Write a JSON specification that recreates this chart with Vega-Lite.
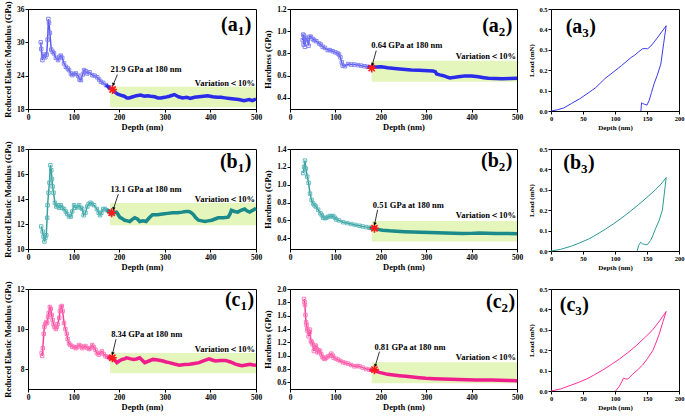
{
"$schema":"https://vega.github.io/schema/vega-lite/v6.json",
"padding":{"left":2,"top":0,"right":0,"bottom":0},
"config":{
 "font":"Liberation Serif",
 "view":{"stroke":"#000","strokeWidth":1},
 "axis":{"domainColor":"#000","tickColor":"#000","labelColor":"#000","titleColor":"#000","labelFont":"Liberation Serif","titleFont":"Liberation Serif","labelFontWeight":"bold","titleFontWeight":"bold","labelFontSize":7.5,"titleFontSize":8.5,"grid":false,"tickSize":3,"labelPadding":1,"titlePadding":4,"labelFlush":false,"labelOverlap":false,"tickCount":12},
 "axisX":{"titlePadding":2}
},
"datasets":{
"a1":[{"d":28,"v":30.0},{"d":29,"v":28.8},{"d":31.5,"v":26.8},{"d":33,"v":27.5},{"d":35,"v":27.8},{"d":38,"v":27.3},{"d":41,"v":27.8},{"d":43,"v":30.5},{"d":44.7,"v":34.2},{"d":46,"v":33.5},{"d":48,"v":31.7},{"d":51,"v":28.7},{"d":54,"v":28.3},{"d":57,"v":28.0},{"d":61,"v":27.2},{"d":66,"v":26.8},{"d":69,"v":27.4},{"d":72,"v":27.6},{"d":75,"v":27.2},{"d":79,"v":26.2},{"d":83,"v":25.6},{"d":87,"v":25.3},{"d":90,"v":25.0},{"d":94,"v":24.4},{"d":97,"v":24.1},{"d":101,"v":24.3},{"d":105,"v":24.4},{"d":110,"v":24.0},{"d":113,"v":23.3},{"d":116,"v":23.2},{"d":120,"v":24.2},{"d":123,"v":25.0},{"d":127,"v":24.8},{"d":130,"v":24.4},{"d":135,"v":24.6},{"d":141,"v":24.1},{"d":146,"v":24.0},{"d":152,"v":23.7},{"d":156,"v":23.3},{"d":160,"v":22.9},{"d":165,"v":22.7},{"d":171,"v":22.3},{"d":178,"v":21.9},{"d":185,"v":21.5},{"d":190,"v":21.1},{"d":196,"v":20.7},{"d":203,"v":20.5},{"d":211,"v":20.3},{"d":217,"v":20.0},{"d":222,"v":20.0},{"d":230,"v":20.2},{"d":238,"v":20.4},{"d":247,"v":20.5},{"d":255,"v":20.3},{"d":262,"v":20.4},{"d":269,"v":20.3},{"d":278,"v":20.2},{"d":285,"v":20.0},{"d":291,"v":20.0},{"d":300,"v":20.1},{"d":310,"v":20.3},{"d":321,"v":20.6},{"d":330,"v":20.2},{"d":339,"v":20.0},{"d":348,"v":20.1},{"d":356,"v":19.9},{"d":365,"v":20.1},{"d":375,"v":20.2},{"d":385,"v":20.3},{"d":394,"v":20.4},{"d":405,"v":20.2},{"d":415,"v":20.1},{"d":423,"v":20.1},{"d":432,"v":20.0},{"d":442,"v":19.9},{"d":452,"v":19.8},{"d":462,"v":19.7},{"d":474,"v":19.5},{"d":485,"v":19.7},{"d":492,"v":19.5},{"d":500,"v":19.8}],
"a2":[{"d":28,"v":0.92},{"d":29,"v":0.97},{"d":30,"v":0.88},{"d":31,"v":0.96},{"d":33,"v":0.86},{"d":35,"v":0.94},{"d":38,"v":0.92},{"d":41,"v":0.87},{"d":43,"v":0.95},{"d":46,"v":0.95},{"d":50,"v":0.93},{"d":53,"v":0.92},{"d":58,"v":0.91},{"d":64,"v":0.89},{"d":68,"v":0.88},{"d":72,"v":0.86},{"d":77,"v":0.85},{"d":83,"v":0.83},{"d":88,"v":0.83},{"d":94,"v":0.82},{"d":100,"v":0.81},{"d":105,"v":0.80},{"d":108,"v":0.79},{"d":111,"v":0.765},{"d":114,"v":0.72},{"d":116,"v":0.69},{"d":121,"v":0.685},{"d":128,"v":0.705},{"d":135,"v":0.70},{"d":142,"v":0.70},{"d":150,"v":0.695},{"d":157,"v":0.69},{"d":164,"v":0.685},{"d":171,"v":0.68},{"d":182,"v":0.675},{"d":191,"v":0.677},{"d":201,"v":0.68},{"d":215,"v":0.672},{"d":230,"v":0.665},{"d":248,"v":0.658},{"d":267,"v":0.65},{"d":285,"v":0.648},{"d":304,"v":0.645},{"d":315,"v":0.643},{"d":320,"v":0.635},{"d":323,"v":0.615},{"d":330,"v":0.607},{"d":338,"v":0.60},{"d":345,"v":0.59},{"d":352,"v":0.58},{"d":363,"v":0.585},{"d":375,"v":0.592},{"d":386,"v":0.598},{"d":400,"v":0.596},{"d":415,"v":0.59},{"d":427,"v":0.582},{"d":437,"v":0.576},{"d":452,"v":0.574},{"d":467,"v":0.573},{"d":485,"v":0.575},{"d":500,"v":0.576}],
"b1":[{"d":29,"v":11.8},{"d":32,"v":11.4},{"d":34,"v":11.0},{"d":36,"v":10.6},{"d":38,"v":10.9},{"d":40,"v":11.1},{"d":42,"v":12.5},{"d":43,"v":13.5},{"d":45,"v":14.5},{"d":47,"v":15.3},{"d":49,"v":16.7},{"d":51,"v":16.3},{"d":52.5,"v":15.6},{"d":54,"v":15.0},{"d":56,"v":14.5},{"d":59,"v":13.7},{"d":62,"v":13.4},{"d":65,"v":13.5},{"d":68,"v":13.3},{"d":72,"v":13.5},{"d":75,"v":13.3},{"d":79,"v":13.2},{"d":83,"v":13.0},{"d":86,"v":12.8},{"d":90,"v":12.6},{"d":94,"v":12.6},{"d":97,"v":13.0},{"d":101,"v":13.5},{"d":104,"v":13.3},{"d":108,"v":13.35},{"d":112,"v":13.5},{"d":116,"v":13.3},{"d":119,"v":13.2},{"d":122,"v":12.7},{"d":126,"v":12.9},{"d":130,"v":13.4},{"d":133,"v":13.6},{"d":137,"v":13.7},{"d":140,"v":13.6},{"d":145,"v":13.5},{"d":151,"v":13.2},{"d":155,"v":12.9},{"d":158,"v":12.7},{"d":161,"v":12.9},{"d":165,"v":13.2},{"d":169,"v":13.2},{"d":173,"v":13.1},{"d":178,"v":13.0},{"d":183,"v":12.8},{"d":188,"v":12.9},{"d":194,"v":12.95},{"d":197,"v":12.8},{"d":201,"v":12.55},{"d":206,"v":12.45},{"d":212,"v":12.3},{"d":218,"v":12.25},{"d":223,"v":12.2},{"d":228,"v":12.35},{"d":234,"v":12.5},{"d":240,"v":12.4},{"d":245,"v":12.2},{"d":252,"v":12.25},{"d":259,"v":12.2},{"d":266,"v":12.5},{"d":273,"v":12.75},{"d":284,"v":12.75},{"d":295,"v":12.8},{"d":306,"v":12.85},{"d":317,"v":12.9},{"d":328,"v":12.9},{"d":338,"v":12.95},{"d":346,"v":13.0},{"d":353,"v":13.0},{"d":358,"v":12.9},{"d":363,"v":12.75},{"d":368,"v":12.5},{"d":374,"v":12.3},{"d":381,"v":12.25},{"d":388,"v":12.2},{"d":395,"v":12.25},{"d":403,"v":12.3},{"d":410,"v":12.4},{"d":417,"v":12.5},{"d":428,"v":12.5},{"d":439,"v":12.55},{"d":443,"v":12.8},{"d":446,"v":13.1},{"d":453,"v":13.0},{"d":460,"v":12.95},{"d":467,"v":13.1},{"d":475,"v":13.2},{"d":480,"v":13.05},{"d":486,"v":12.95},{"d":493,"v":13.1},{"d":500,"v":13.25}],
"b2":[{"d":29,"v":1.13},{"d":31,"v":1.2},{"d":33,"v":1.27},{"d":35,"v":1.18},{"d":38,"v":1.09},{"d":41,"v":1.02},{"d":44,"v":0.9},{"d":47.5,"v":0.83},{"d":51,"v":0.79},{"d":54,"v":0.77},{"d":57,"v":0.755},{"d":62,"v":0.72},{"d":67,"v":0.68},{"d":70,"v":0.66},{"d":73,"v":0.63},{"d":77,"v":0.625},{"d":80,"v":0.63},{"d":84,"v":0.64},{"d":88,"v":0.65},{"d":92,"v":0.645},{"d":95,"v":0.65},{"d":99,"v":0.63},{"d":102,"v":0.61},{"d":108,"v":0.6},{"d":117,"v":0.58},{"d":126,"v":0.57},{"d":135,"v":0.56},{"d":144,"v":0.55},{"d":153,"v":0.54},{"d":160,"v":0.532},{"d":168,"v":0.525},{"d":175,"v":0.518},{"d":182,"v":0.513},{"d":193,"v":0.5},{"d":204,"v":0.49},{"d":219,"v":0.484},{"d":234,"v":0.48},{"d":252,"v":0.474},{"d":270,"v":0.47},{"d":288,"v":0.467},{"d":307,"v":0.464},{"d":325,"v":0.462},{"d":343,"v":0.46},{"d":362,"v":0.457},{"d":380,"v":0.453},{"d":398,"v":0.455},{"d":416,"v":0.46},{"d":435,"v":0.456},{"d":453,"v":0.453},{"d":476,"v":0.453},{"d":500,"v":0.452}],
"c1":[{"d":30,"v":8.8},{"d":31,"v":8.65},{"d":32.5,"v":9.04},{"d":34.6,"v":9.76},{"d":36,"v":10.1},{"d":37.5,"v":10.24},{"d":40,"v":10.35},{"d":42,"v":10.3},{"d":44,"v":10.6},{"d":45.5,"v":10.8},{"d":48,"v":11.1},{"d":50,"v":11.0},{"d":52,"v":10.7},{"d":54,"v":10.45},{"d":56,"v":10.24},{"d":58,"v":10.1},{"d":61,"v":10.0},{"d":63,"v":10.1},{"d":65,"v":10.24},{"d":68.5,"v":10.56},{"d":70,"v":10.9},{"d":72,"v":11.1},{"d":74,"v":11.15},{"d":76,"v":10.9},{"d":79,"v":10.3},{"d":82,"v":10.0},{"d":85,"v":9.76},{"d":87,"v":9.5},{"d":90,"v":9.28},{"d":93,"v":9.2},{"d":97,"v":9.12},{"d":101,"v":9.1},{"d":105,"v":9.04},{"d":108,"v":9.1},{"d":112,"v":9.2},{"d":116,"v":9.15},{"d":119,"v":9.04},{"d":123,"v":9.1},{"d":126,"v":9.15},{"d":130,"v":9.05},{"d":134,"v":9.0},{"d":137,"v":9.04},{"d":141,"v":9.2},{"d":144,"v":9.1},{"d":148,"v":8.96},{"d":151,"v":8.8},{"d":155,"v":8.72},{"d":158,"v":8.8},{"d":162,"v":8.88},{"d":166,"v":8.75},{"d":170,"v":8.64},{"d":174,"v":8.6},{"d":179,"v":8.56},{"d":183,"v":8.55},{"d":188,"v":8.48},{"d":192,"v":8.4},{"d":195,"v":8.32},{"d":200,"v":8.4},{"d":206,"v":8.48},{"d":211,"v":8.5},{"d":216,"v":8.56},{"d":223,"v":8.52},{"d":231,"v":8.48},{"d":238,"v":8.5},{"d":245,"v":8.56},{"d":250,"v":8.45},{"d":256,"v":8.32},{"d":265,"v":8.4},{"d":274,"v":8.48},{"d":285,"v":8.45},{"d":296,"v":8.4},{"d":303,"v":8.35},{"d":310,"v":8.32},{"d":321,"v":8.25},{"d":332,"v":8.19},{"d":343,"v":8.22},{"d":354,"v":8.24},{"d":365,"v":8.28},{"d":375,"v":8.32},{"d":386,"v":8.42},{"d":397,"v":8.51},{"d":404,"v":8.45},{"d":411,"v":8.4},{"d":422,"v":8.42},{"d":433,"v":8.43},{"d":444,"v":8.35},{"d":455,"v":8.24},{"d":462,"v":8.2},{"d":469,"v":8.16},{"d":478,"v":8.2},{"d":487,"v":8.24},{"d":494,"v":8.2},{"d":500,"v":8.19}],
"c2":[{"d":31,"v":1.85},{"d":32,"v":1.8},{"d":33,"v":1.76},{"d":34,"v":1.61},{"d":35.5,"v":1.5},{"d":36.5,"v":1.46},{"d":38,"v":1.4},{"d":39,"v":1.37},{"d":41,"v":1.29},{"d":43,"v":1.35},{"d":44,"v":1.39},{"d":46,"v":1.22},{"d":48,"v":1.2},{"d":50,"v":1.17},{"d":52.5,"v":1.07},{"d":55,"v":1.12},{"d":57,"v":1.15},{"d":59,"v":1.1},{"d":60.5,"v":1.05},{"d":63,"v":1.08},{"d":66,"v":1.07},{"d":69,"v":1.02},{"d":71.5,"v":0.98},{"d":74,"v":0.96},{"d":77,"v":0.95},{"d":80,"v":0.97},{"d":84,"v":0.99},{"d":88,"v":1.0},{"d":91,"v":1.03},{"d":94,"v":1.0},{"d":96,"v":0.97},{"d":101,"v":0.955},{"d":106,"v":0.94},{"d":111,"v":0.92},{"d":117,"v":0.9},{"d":122,"v":0.89},{"d":128,"v":0.88},{"d":135,"v":0.86},{"d":142,"v":0.84},{"d":148,"v":0.845},{"d":153,"v":0.84},{"d":160,"v":0.82},{"d":168,"v":0.8},{"d":175,"v":0.79},{"d":182,"v":0.78},{"d":190,"v":0.765},{"d":197,"v":0.75},{"d":206,"v":0.735},{"d":215,"v":0.72},{"d":228,"v":0.71},{"d":241,"v":0.7},{"d":255,"v":0.69},{"d":270,"v":0.68},{"d":285,"v":0.67},{"d":299,"v":0.66},{"d":317,"v":0.655},{"d":336,"v":0.65},{"d":354,"v":0.647},{"d":372,"v":0.644},{"d":390,"v":0.64},{"d":409,"v":0.634},{"d":427,"v":0.634},{"d":445,"v":0.634},{"d":463,"v":0.63},{"d":482,"v":0.628},{"d":500,"v":0.625}],
"a3":[{"i":1,"d":0,"v":0},{"i":2,"d":10,"v":0.006},{"i":3,"d":20,"v":0.015},{"i":4,"d":32,"v":0.037},{"i":5,"d":45,"v":0.06},{"i":6,"d":58,"v":0.088},{"i":7,"d":70,"v":0.115},{"i":8,"d":84,"v":0.158},{"i":9,"d":97,"v":0.19},{"i":10,"d":110,"v":0.222},{"i":11,"d":125,"v":0.262},{"i":12,"d":130,"v":0.272},{"i":13,"d":137,"v":0.29},{"i":14,"d":143,"v":0.305},{"i":15,"d":147,"v":0.306},{"i":16,"d":151,"v":0.305},{"i":17,"d":156,"v":0.318},{"i":18,"d":161,"v":0.338},{"i":19,"d":166,"v":0.358},{"i":20,"d":173,"v":0.388},{"i":21,"d":180,"v":0.418},{"i":22,"d":176,"v":0.33},{"i":23,"d":171.6,"v":0.23},{"i":24,"d":166,"v":0.175},{"i":25,"d":161,"v":0.133},{"i":26,"d":157,"v":0.09},{"i":27,"d":153.5,"v":0.053},{"i":28,"d":150,"v":0.029},{"i":29,"d":146,"v":0.033},{"i":30,"d":143,"v":0.037},{"i":31,"d":141.5,"v":0.04},{"i":32,"d":141,"v":0.02},{"i":33,"d":140.5,"v":0.0}],
"b3":[{"i":1,"d":0,"v":0},{"i":2,"d":15,"v":0.008},{"i":3,"d":32,"v":0.024},{"i":4,"d":45,"v":0.04},{"i":5,"d":59,"v":0.059},{"i":6,"d":72,"v":0.082},{"i":7,"d":85,"v":0.107},{"i":8,"d":98,"v":0.134},{"i":9,"d":111,"v":0.163},{"i":10,"d":124,"v":0.195},{"i":11,"d":137,"v":0.228},{"i":12,"d":150,"v":0.263},{"i":13,"d":163,"v":0.30},{"i":14,"d":172,"v":0.328},{"i":15,"d":180,"v":0.36},{"i":16,"d":177,"v":0.28},{"i":17,"d":174,"v":0.2},{"i":18,"d":169,"v":0.15},{"i":19,"d":163,"v":0.107},{"i":20,"d":159,"v":0.075},{"i":21,"d":155.5,"v":0.051},{"i":22,"d":150,"v":0.03},{"i":23,"d":146,"v":0.033},{"i":24,"d":143,"v":0.035},{"i":25,"d":140,"v":0.043},{"i":26,"d":138.5,"v":0.035},{"i":27,"d":137,"v":0.027},{"i":28,"d":134.5,"v":0.0}],
"c3":[{"i":1,"d":0,"v":0},{"i":2,"d":15,"v":0.01},{"i":3,"d":30,"v":0.027},{"i":4,"d":43,"v":0.042},{"i":5,"d":56,"v":0.059},{"i":6,"d":68,"v":0.08},{"i":7,"d":81,"v":0.103},{"i":8,"d":94,"v":0.129},{"i":9,"d":107,"v":0.157},{"i":10,"d":120,"v":0.188},{"i":11,"d":133,"v":0.222},{"i":12,"d":146,"v":0.26},{"i":13,"d":159,"v":0.30},{"i":14,"d":170,"v":0.345},{"i":15,"d":180,"v":0.39},{"i":16,"d":175,"v":0.34},{"i":17,"d":169,"v":0.278},{"i":18,"d":164,"v":0.236},{"i":19,"d":159,"v":0.198},{"i":20,"d":151,"v":0.16},{"i":21,"d":143,"v":0.127},{"i":22,"d":135,"v":0.103},{"i":23,"d":128,"v":0.083},{"i":24,"d":122,"v":0.065},{"i":25,"d":120,"v":0.059},{"i":26,"d":116.5,"v":0.059},{"i":27,"d":113,"v":0.063},{"i":28,"d":111,"v":0.048},{"i":29,"d":107,"v":0.024},{"i":30,"d":101,"v":0.0}],
"ann":[
{"p":"a1","k":"band","x":180,"x2":500,"y":18.3,"y2":22.0},
{"p":"a1","k":"star","x":185.5,"y":21.5},
{"p":"a1","k":"arrow","x":196,"y":24.2,"x2":187,"y2":22.4},
{"p":"a1","k":"note","x":181,"y":25.2,"t":"21.9 GPa at 180 nm"},
{"p":"a1","k":"var","x":500,"y":22.7,"t":"Variation＜10%"},
{"p":"a1","k":"lab","x":460,"y":33.1,"t":"(a","s":"1"},
{"p":"a2","k":"band","x":180,"x2":500,"y":0.546,"y2":0.735},
{"p":"a2","k":"star","x":180,"y":0.668},
{"p":"a2","k":"arrow","x":190,"y":0.826,"x2":181.5,"y2":0.70},
{"p":"a2","k":"note","x":179,"y":0.878,"t":"0.64 GPa at 180 nm"},
{"p":"a2","k":"var","x":500,"y":0.78,"t":"Variation＜10%"},
{"p":"a2","k":"lab","x":460,"y":1.045,"t":"(a","s":"2"},
{"p":"a3","k":"lab","x":49,"y":0.41,"t":"(a","s":"3"},
{"p":"b1","k":"band","x":180,"x2":500,"y":11.9,"y2":13.69},
{"p":"b1","k":"star","x":183.5,"y":12.9},
{"p":"b1","k":"arrow","x":198,"y":14.39,"x2":187.5,"y2":13.22},
{"p":"b1","k":"note","x":181,"y":14.78,"t":"13.1 GPa at 180 nm"},
{"p":"b1","k":"var","x":500,"y":14.0,"t":"Variation＜10%"},
{"p":"b1","k":"lab","x":460,"y":17.0,"t":"(b","s":"1"},
{"p":"b2","k":"band","x":180,"x2":500,"y":0.365,"y2":0.595},
{"p":"b2","k":"star","x":186,"y":0.513},
{"p":"b2","k":"arrow","x":193,"y":0.719,"x2":186.5,"y2":0.56},
{"p":"b2","k":"note","x":182.5,"y":0.772,"t":"0.51 GPa at 180 nm"},
{"p":"b2","k":"var","x":500,"y":0.666,"t":"Variation＜10%"},
{"p":"b2","k":"lab","x":460,"y":1.27,"t":"(b","s":"2"},
{"p":"b3","k":"lab","x":47,"y":0.43,"t":"(b","s":"3"},
{"p":"c1","k":"band","x":180,"x2":500,"y":7.79,"y2":8.8},
{"p":"c1","k":"star","x":185,"y":8.56},
{"p":"c1","k":"arrow","x":193,"y":9.49,"x2":185.5,"y2":8.77},
{"p":"c1","k":"note","x":182.5,"y":9.76,"t":"8.34 GPa at 180 nm"},
{"p":"c1","k":"var","x":500,"y":9.0,"t":"Variation＜10%"},
{"p":"c1","k":"lab","x":466,"y":11.44,"t":"(c","s":"1"},
{"p":"c2","k":"band","x":180,"x2":500,"y":0.585,"y2":0.9},
{"p":"c2","k":"star","x":186,"y":0.79},
{"p":"c2","k":"arrow","x":197,"y":1.06,"x2":188,"y2":0.85},
{"p":"c2","k":"note","x":186,"y":1.137,"t":"0.81 GPa at 180 nm"},
{"p":"c2","k":"var","x":500,"y":0.985,"t":"Variation＜10%"},
{"p":"c2","k":"lab","x":466,"y":1.8,"t":"(c","s":"2"},
{"p":"c3","k":"lab","x":38,"y":0.42,"t":"(c","s":"3"}
]
},
"columns":3,
"spacing":{"row":38,"column":34},
"bounds":"flush",
"concat":[
{"width":228,"height":100,"layer":[
{"data":{"name":"ann"},"transform":[{"filter":"datum.p=='a1'&&datum.k=='band'"}],"mark":{"type":"rect","color":"#e4f6bc"},"encoding":{"x":{"field":"x","type":"quantitative","scale":{"domain":[0,500],"nice":false},"axis":{"title":"Depth (nm)","values":[0,100,200,300,400,500],"format":"d","tickCount":12}},"x2":{"field":"x2"},"y":{"field":"y","type":"quantitative","scale":{"domain":[18,36],"nice":false,"zero":false},"axis":{"title":"Reduced Elastic Modulus (GPa)","values":[18,24,30,36],"format":"d","tickCount":12}},"y2":{"field":"y2"}}},
{"data":{"name":"a1"},"mark":{"type":"line","color":"#5a5af0","strokeWidth":1.5},"encoding":{"x":{"field":"d","type":"quantitative"},"y":{"field":"v","type":"quantitative"}}},
{"data":{"name":"a1"},"transform":[{"filter":"datum.d<180"}],"mark":{"type":"point","shape":"square","filled":false,"size":12,"strokeWidth":0.9,"color":"#7a7af2","opacity":1},"encoding":{"x":{"field":"d","type":"quantitative"},"y":{"field":"v","type":"quantitative"}}},
{"data":{"name":"a1"},"transform":[{"filter":"datum.d>=171"}],"mark":{"type":"line","color":"#2b2bea","strokeWidth":3.5},"encoding":{"x":{"field":"d","type":"quantitative"},"y":{"field":"v","type":"quantitative"}}},
{"data":{"name":"ann"},"transform":[{"filter":"datum.p=='a1'&&datum.k=='star'"}],"mark":{"type":"point","shape":"M-1,0L1,0M0,-1L0,1M-0.7,-0.7L0.7,0.7M-0.7,0.7L0.7,-0.7","size":80,"strokeWidth":1.6,"color":"#ff1a1a","filled":false,"opacity":1},"encoding":{"x":{"field":"x","type":"quantitative"},"y":{"field":"y","type":"quantitative"}}},
{"data":{"name":"ann"},"transform":[{"filter":"datum.p=='a1'&&datum.k=='arrow'"}],"mark":{"type":"rule","color":"#000","strokeWidth":0.8},"encoding":{"x":{"field":"x","type":"quantitative"},"y":{"field":"y","type":"quantitative"},"x2":{"field":"x2"},"y2":{"field":"y2"}}},
{"data":{"name":"ann"},"transform":[{"filter":"datum.p=='a1'&&datum.k=='arrow'"}],"mark":{"type":"point","shape":"triangle-down","angle":18,"size":12,"filled":true,"color":"#000","opacity":1},"encoding":{"x":{"field":"x2","type":"quantitative"},"y":{"field":"y2","type":"quantitative"}}},
{"data":{"name":"ann"},"transform":[{"filter":"datum.p=='a1'&&datum.k=='note'"}],"mark":{"type":"text","align":"left","baseline":"middle","fontSize":8.5,"fontWeight":"bold","font":"Liberation Serif","color":"#000"},"encoding":{"x":{"field":"x","type":"quantitative"},"y":{"field":"y","type":"quantitative"},"text":{"field":"t"}}},
{"data":{"name":"ann"},"transform":[{"filter":"datum.p=='a1'&&datum.k=='var'"}],"mark":{"type":"text","align":"right","baseline":"middle","dx":-1,"fontSize":8.5,"fontWeight":"bold","font":"Liberation Serif","color":"#000"},"encoding":{"x":{"field":"x","type":"quantitative"},"y":{"field":"y","type":"quantitative"},"text":{"field":"t"}}},
{"data":{"name":"ann"},"transform":[{"filter":"datum.p=='a1'&&datum.k=='lab'"}],"mark":{"type":"text","align":"right","baseline":"middle","fontSize":20,"fontWeight":"bold","font":"Liberation Serif","color":"#000"},"encoding":{"x":{"field":"x","type":"quantitative"},"y":{"field":"y","type":"quantitative"},"text":{"field":"t"}}},
{"data":{"name":"ann"},"transform":[{"filter":"datum.p=='a1'&&datum.k=='lab'"}],"mark":{"type":"text","align":"left","baseline":"middle","dy":6,"fontSize":13,"fontWeight":"bold","font":"Liberation Serif","color":"#000"},"encoding":{"x":{"field":"x","type":"quantitative"},"y":{"field":"y","type":"quantitative"},"text":{"field":"s"}}},
{"data":{"name":"ann"},"transform":[{"filter":"datum.p=='a1'&&datum.k=='lab'"}],"mark":{"type":"text","align":"left","baseline":"middle","dx":7,"fontSize":20,"fontWeight":"bold","font":"Liberation Serif","color":"#000"},"encoding":{"x":{"field":"x","type":"quantitative"},"y":{"field":"y","type":"quantitative"},"text":{"value":")"}}}
]},
{"width":227,"height":100,"layer":[
{"data":{"name":"ann"},"transform":[{"filter":"datum.p=='a2'&&datum.k=='band'"}],"mark":{"type":"rect","color":"#e4f6bc"},"encoding":{"x":{"field":"x","type":"quantitative","scale":{"domain":[0,500],"nice":false},"axis":{"title":"Depth (nm)","values":[0,100,200,300,400,500],"format":"d","tickCount":12}},"x2":{"field":"x2"},"y":{"field":"y","type":"quantitative","scale":{"domain":[0.3,1.2],"nice":false,"zero":false},"axis":{"title":"Hardness (GPa)","values":[0.4,0.6,0.8,1.0,1.2],"format":".1f","tickCount":12}},"y2":{"field":"y2"}}},
{"data":{"name":"a2"},"mark":{"type":"line","color":"#5a5af0","strokeWidth":1.5},"encoding":{"x":{"field":"d","type":"quantitative"},"y":{"field":"v","type":"quantitative"}}},
{"data":{"name":"a2"},"transform":[{"filter":"datum.d<180"}],"mark":{"type":"point","shape":"square","filled":false,"size":12,"strokeWidth":0.9,"color":"#7a7af2","opacity":1},"encoding":{"x":{"field":"d","type":"quantitative"},"y":{"field":"v","type":"quantitative"}}},
{"data":{"name":"a2"},"transform":[{"filter":"datum.d>=171"}],"mark":{"type":"line","color":"#2b2bea","strokeWidth":3.5},"encoding":{"x":{"field":"d","type":"quantitative"},"y":{"field":"v","type":"quantitative"}}},
{"data":{"name":"ann"},"transform":[{"filter":"datum.p=='a2'&&datum.k=='star'"}],"mark":{"type":"point","shape":"M-1,0L1,0M0,-1L0,1M-0.7,-0.7L0.7,0.7M-0.7,0.7L0.7,-0.7","size":80,"strokeWidth":1.6,"color":"#ff1a1a","filled":false,"opacity":1},"encoding":{"x":{"field":"x","type":"quantitative"},"y":{"field":"y","type":"quantitative"}}},
{"data":{"name":"ann"},"transform":[{"filter":"datum.p=='a2'&&datum.k=='arrow'"}],"mark":{"type":"rule","color":"#000","strokeWidth":0.8},"encoding":{"x":{"field":"x","type":"quantitative"},"y":{"field":"y","type":"quantitative"},"x2":{"field":"x2"},"y2":{"field":"y2"}}},
{"data":{"name":"ann"},"transform":[{"filter":"datum.p=='a2'&&datum.k=='arrow'"}],"mark":{"type":"point","shape":"triangle-down","angle":18,"size":12,"filled":true,"color":"#000","opacity":1},"encoding":{"x":{"field":"x2","type":"quantitative"},"y":{"field":"y2","type":"quantitative"}}},
{"data":{"name":"ann"},"transform":[{"filter":"datum.p=='a2'&&datum.k=='note'"}],"mark":{"type":"text","align":"left","baseline":"middle","fontSize":8.5,"fontWeight":"bold","font":"Liberation Serif","color":"#000"},"encoding":{"x":{"field":"x","type":"quantitative"},"y":{"field":"y","type":"quantitative"},"text":{"field":"t"}}},
{"data":{"name":"ann"},"transform":[{"filter":"datum.p=='a2'&&datum.k=='var'"}],"mark":{"type":"text","align":"right","baseline":"middle","dx":-1,"fontSize":8.5,"fontWeight":"bold","font":"Liberation Serif","color":"#000"},"encoding":{"x":{"field":"x","type":"quantitative"},"y":{"field":"y","type":"quantitative"},"text":{"field":"t"}}},
{"data":{"name":"ann"},"transform":[{"filter":"datum.p=='a2'&&datum.k=='lab'"}],"mark":{"type":"text","align":"right","baseline":"middle","fontSize":20,"fontWeight":"bold","font":"Liberation Serif","color":"#000"},"encoding":{"x":{"field":"x","type":"quantitative"},"y":{"field":"y","type":"quantitative"},"text":{"field":"t"}}},
{"data":{"name":"ann"},"transform":[{"filter":"datum.p=='a2'&&datum.k=='lab'"}],"mark":{"type":"text","align":"left","baseline":"middle","dy":6,"fontSize":13,"fontWeight":"bold","font":"Liberation Serif","color":"#000"},"encoding":{"x":{"field":"x","type":"quantitative"},"y":{"field":"y","type":"quantitative"},"text":{"field":"s"}}},
{"data":{"name":"ann"},"transform":[{"filter":"datum.p=='a2'&&datum.k=='lab'"}],"mark":{"type":"text","align":"left","baseline":"middle","dx":7,"fontSize":20,"fontWeight":"bold","font":"Liberation Serif","color":"#000"},"encoding":{"x":{"field":"x","type":"quantitative"},"y":{"field":"y","type":"quantitative"},"text":{"value":")"}}}
]},
{"width":128,"height":102,"layer":[
{"data":{"name":"a3"},"mark":{"type":"line","color":"#3a3af0","strokeWidth":1},"encoding":{"x":{"field":"d","type":"quantitative","scale":{"domain":[0,200],"nice":false},"axis":{"title":"Depth (nm)","values":[0,50,100,150,200],"format":"d","labelFontSize":6.5,"titleFontSize":7,"tickCount":12}},"y":{"field":"v","type":"quantitative","scale":{"domain":[0,0.5],"nice":false},"axis":{"title":"Load (mN)","values":[0,0.1,0.2,0.3,0.4,0.5],"format":".1f","labelFontSize":6.5,"titleFontSize":7,"tickCount":12}},"order":{"field":"i"}}},
{"data":{"name":"ann"},"transform":[{"filter":"datum.p=='a3'&&datum.k=='lab'"}],"mark":{"type":"text","align":"right","baseline":"middle","fontSize":20,"fontWeight":"bold","font":"Liberation Serif","color":"#000"},"encoding":{"x":{"field":"x","type":"quantitative"},"y":{"field":"y","type":"quantitative"},"text":{"field":"t"}}},
{"data":{"name":"ann"},"transform":[{"filter":"datum.p=='a3'&&datum.k=='lab'"}],"mark":{"type":"text","align":"left","baseline":"middle","dy":6,"fontSize":13,"fontWeight":"bold","font":"Liberation Serif","color":"#000"},"encoding":{"x":{"field":"x","type":"quantitative"},"y":{"field":"y","type":"quantitative"},"text":{"field":"s"}}},
{"data":{"name":"ann"},"transform":[{"filter":"datum.p=='a3'&&datum.k=='lab'"}],"mark":{"type":"text","align":"left","baseline":"middle","dx":7,"fontSize":20,"fontWeight":"bold","font":"Liberation Serif","color":"#000"},"encoding":{"x":{"field":"x","type":"quantitative"},"y":{"field":"y","type":"quantitative"},"text":{"value":")"}}}
]},
{"width":228,"height":100,"layer":[
{"data":{"name":"ann"},"transform":[{"filter":"datum.p=='b1'&&datum.k=='band'"}],"mark":{"type":"rect","color":"#e4f6bc"},"encoding":{"x":{"field":"x","type":"quantitative","scale":{"domain":[0,500],"nice":false},"axis":{"title":"Depth (nm)","values":[0,100,200,300,400,500],"format":"d","tickCount":12}},"x2":{"field":"x2"},"y":{"field":"y","type":"quantitative","scale":{"domain":[10,18],"nice":false,"zero":false},"axis":{"title":"Reduced Elastic Modulus (GPa)","values":[10,12,14,16,18],"format":"d","tickCount":12}},"y2":{"field":"y2"}}},
{"data":{"name":"b1"},"mark":{"type":"line","color":"#3a9e9e","strokeWidth":1.5},"encoding":{"x":{"field":"d","type":"quantitative"},"y":{"field":"v","type":"quantitative"}}},
{"data":{"name":"b1"},"transform":[{"filter":"datum.d<180"}],"mark":{"type":"point","shape":"square","filled":false,"size":12,"strokeWidth":0.9,"color":"#55b5b5","opacity":1},"encoding":{"x":{"field":"d","type":"quantitative"},"y":{"field":"v","type":"quantitative"}}},
{"data":{"name":"b1"},"transform":[{"filter":"datum.d>=171"}],"mark":{"type":"line","color":"#1a8a8a","strokeWidth":3.5},"encoding":{"x":{"field":"d","type":"quantitative"},"y":{"field":"v","type":"quantitative"}}},
{"data":{"name":"ann"},"transform":[{"filter":"datum.p=='b1'&&datum.k=='star'"}],"mark":{"type":"point","shape":"M-1,0L1,0M0,-1L0,1M-0.7,-0.7L0.7,0.7M-0.7,0.7L0.7,-0.7","size":80,"strokeWidth":1.6,"color":"#ff1a1a","filled":false,"opacity":1},"encoding":{"x":{"field":"x","type":"quantitative"},"y":{"field":"y","type":"quantitative"}}},
{"data":{"name":"ann"},"transform":[{"filter":"datum.p=='b1'&&datum.k=='arrow'"}],"mark":{"type":"rule","color":"#000","strokeWidth":0.8},"encoding":{"x":{"field":"x","type":"quantitative"},"y":{"field":"y","type":"quantitative"},"x2":{"field":"x2"},"y2":{"field":"y2"}}},
{"data":{"name":"ann"},"transform":[{"filter":"datum.p=='b1'&&datum.k=='arrow'"}],"mark":{"type":"point","shape":"triangle-down","angle":18,"size":12,"filled":true,"color":"#000","opacity":1},"encoding":{"x":{"field":"x2","type":"quantitative"},"y":{"field":"y2","type":"quantitative"}}},
{"data":{"name":"ann"},"transform":[{"filter":"datum.p=='b1'&&datum.k=='note'"}],"mark":{"type":"text","align":"left","baseline":"middle","fontSize":8.5,"fontWeight":"bold","font":"Liberation Serif","color":"#000"},"encoding":{"x":{"field":"x","type":"quantitative"},"y":{"field":"y","type":"quantitative"},"text":{"field":"t"}}},
{"data":{"name":"ann"},"transform":[{"filter":"datum.p=='b1'&&datum.k=='var'"}],"mark":{"type":"text","align":"right","baseline":"middle","dx":-1,"fontSize":8.5,"fontWeight":"bold","font":"Liberation Serif","color":"#000"},"encoding":{"x":{"field":"x","type":"quantitative"},"y":{"field":"y","type":"quantitative"},"text":{"field":"t"}}},
{"data":{"name":"ann"},"transform":[{"filter":"datum.p=='b1'&&datum.k=='lab'"}],"mark":{"type":"text","align":"right","baseline":"middle","fontSize":20,"fontWeight":"bold","font":"Liberation Serif","color":"#000"},"encoding":{"x":{"field":"x","type":"quantitative"},"y":{"field":"y","type":"quantitative"},"text":{"field":"t"}}},
{"data":{"name":"ann"},"transform":[{"filter":"datum.p=='b1'&&datum.k=='lab'"}],"mark":{"type":"text","align":"left","baseline":"middle","dy":6,"fontSize":13,"fontWeight":"bold","font":"Liberation Serif","color":"#000"},"encoding":{"x":{"field":"x","type":"quantitative"},"y":{"field":"y","type":"quantitative"},"text":{"field":"s"}}},
{"data":{"name":"ann"},"transform":[{"filter":"datum.p=='b1'&&datum.k=='lab'"}],"mark":{"type":"text","align":"left","baseline":"middle","dx":7,"fontSize":20,"fontWeight":"bold","font":"Liberation Serif","color":"#000"},"encoding":{"x":{"field":"x","type":"quantitative"},"y":{"field":"y","type":"quantitative"},"text":{"value":")"}}}
]},
{"width":227,"height":100,"layer":[
{"data":{"name":"ann"},"transform":[{"filter":"datum.p=='b2'&&datum.k=='band'"}],"mark":{"type":"rect","color":"#e4f6bc"},"encoding":{"x":{"field":"x","type":"quantitative","scale":{"domain":[0,500],"nice":false},"axis":{"title":"Depth (nm)","values":[0,100,200,300,400,500],"format":"d","tickCount":12}},"x2":{"field":"x2"},"y":{"field":"y","type":"quantitative","scale":{"domain":[0.28,1.4],"nice":false,"zero":false},"axis":{"title":"Hardness (GPa)","values":[0.4,0.6,0.8,1.0,1.2,1.4],"format":".1f","tickCount":12}},"y2":{"field":"y2"}}},
{"data":{"name":"b2"},"mark":{"type":"line","color":"#3a9e9e","strokeWidth":1.5},"encoding":{"x":{"field":"d","type":"quantitative"},"y":{"field":"v","type":"quantitative"}}},
{"data":{"name":"b2"},"transform":[{"filter":"datum.d<180"}],"mark":{"type":"point","shape":"square","filled":false,"size":12,"strokeWidth":0.9,"color":"#55b5b5","opacity":1},"encoding":{"x":{"field":"d","type":"quantitative"},"y":{"field":"v","type":"quantitative"}}},
{"data":{"name":"b2"},"transform":[{"filter":"datum.d>=171"}],"mark":{"type":"line","color":"#1a8a8a","strokeWidth":3.5},"encoding":{"x":{"field":"d","type":"quantitative"},"y":{"field":"v","type":"quantitative"}}},
{"data":{"name":"ann"},"transform":[{"filter":"datum.p=='b2'&&datum.k=='star'"}],"mark":{"type":"point","shape":"M-1,0L1,0M0,-1L0,1M-0.7,-0.7L0.7,0.7M-0.7,0.7L0.7,-0.7","size":80,"strokeWidth":1.6,"color":"#ff1a1a","filled":false,"opacity":1},"encoding":{"x":{"field":"x","type":"quantitative"},"y":{"field":"y","type":"quantitative"}}},
{"data":{"name":"ann"},"transform":[{"filter":"datum.p=='b2'&&datum.k=='arrow'"}],"mark":{"type":"rule","color":"#000","strokeWidth":0.8},"encoding":{"x":{"field":"x","type":"quantitative"},"y":{"field":"y","type":"quantitative"},"x2":{"field":"x2"},"y2":{"field":"y2"}}},
{"data":{"name":"ann"},"transform":[{"filter":"datum.p=='b2'&&datum.k=='arrow'"}],"mark":{"type":"point","shape":"triangle-down","angle":18,"size":12,"filled":true,"color":"#000","opacity":1},"encoding":{"x":{"field":"x2","type":"quantitative"},"y":{"field":"y2","type":"quantitative"}}},
{"data":{"name":"ann"},"transform":[{"filter":"datum.p=='b2'&&datum.k=='note'"}],"mark":{"type":"text","align":"left","baseline":"middle","fontSize":8.5,"fontWeight":"bold","font":"Liberation Serif","color":"#000"},"encoding":{"x":{"field":"x","type":"quantitative"},"y":{"field":"y","type":"quantitative"},"text":{"field":"t"}}},
{"data":{"name":"ann"},"transform":[{"filter":"datum.p=='b2'&&datum.k=='var'"}],"mark":{"type":"text","align":"right","baseline":"middle","dx":-1,"fontSize":8.5,"fontWeight":"bold","font":"Liberation Serif","color":"#000"},"encoding":{"x":{"field":"x","type":"quantitative"},"y":{"field":"y","type":"quantitative"},"text":{"field":"t"}}},
{"data":{"name":"ann"},"transform":[{"filter":"datum.p=='b2'&&datum.k=='lab'"}],"mark":{"type":"text","align":"right","baseline":"middle","fontSize":20,"fontWeight":"bold","font":"Liberation Serif","color":"#000"},"encoding":{"x":{"field":"x","type":"quantitative"},"y":{"field":"y","type":"quantitative"},"text":{"field":"t"}}},
{"data":{"name":"ann"},"transform":[{"filter":"datum.p=='b2'&&datum.k=='lab'"}],"mark":{"type":"text","align":"left","baseline":"middle","dy":6,"fontSize":13,"fontWeight":"bold","font":"Liberation Serif","color":"#000"},"encoding":{"x":{"field":"x","type":"quantitative"},"y":{"field":"y","type":"quantitative"},"text":{"field":"s"}}},
{"data":{"name":"ann"},"transform":[{"filter":"datum.p=='b2'&&datum.k=='lab'"}],"mark":{"type":"text","align":"left","baseline":"middle","dx":7,"fontSize":20,"fontWeight":"bold","font":"Liberation Serif","color":"#000"},"encoding":{"x":{"field":"x","type":"quantitative"},"y":{"field":"y","type":"quantitative"},"text":{"value":")"}}}
]},
{"width":128,"height":102,"layer":[
{"data":{"name":"b3"},"mark":{"type":"line","color":"#2a9a96","strokeWidth":1},"encoding":{"x":{"field":"d","type":"quantitative","scale":{"domain":[0,200],"nice":false},"axis":{"title":"Depth (nm)","values":[0,50,100,150,200],"format":"d","labelFontSize":6.5,"titleFontSize":7,"tickCount":12}},"y":{"field":"v","type":"quantitative","scale":{"domain":[0,0.5],"nice":false},"axis":{"title":"Load (mN)","values":[0,0.1,0.2,0.3,0.4,0.5],"format":".1f","labelFontSize":6.5,"titleFontSize":7,"tickCount":12}},"order":{"field":"i"}}},
{"data":{"name":"ann"},"transform":[{"filter":"datum.p=='b3'&&datum.k=='lab'"}],"mark":{"type":"text","align":"right","baseline":"middle","fontSize":20,"fontWeight":"bold","font":"Liberation Serif","color":"#000"},"encoding":{"x":{"field":"x","type":"quantitative"},"y":{"field":"y","type":"quantitative"},"text":{"field":"t"}}},
{"data":{"name":"ann"},"transform":[{"filter":"datum.p=='b3'&&datum.k=='lab'"}],"mark":{"type":"text","align":"left","baseline":"middle","dy":6,"fontSize":13,"fontWeight":"bold","font":"Liberation Serif","color":"#000"},"encoding":{"x":{"field":"x","type":"quantitative"},"y":{"field":"y","type":"quantitative"},"text":{"field":"s"}}},
{"data":{"name":"ann"},"transform":[{"filter":"datum.p=='b3'&&datum.k=='lab'"}],"mark":{"type":"text","align":"left","baseline":"middle","dx":7,"fontSize":20,"fontWeight":"bold","font":"Liberation Serif","color":"#000"},"encoding":{"x":{"field":"x","type":"quantitative"},"y":{"field":"y","type":"quantitative"},"text":{"value":")"}}}
]},
{"width":228,"height":100,"layer":[
{"data":{"name":"ann"},"transform":[{"filter":"datum.p=='c1'&&datum.k=='band'"}],"mark":{"type":"rect","color":"#e4f6bc"},"encoding":{"x":{"field":"x","type":"quantitative","scale":{"domain":[0,500],"nice":false},"axis":{"title":"Depth (nm)","values":[0,100,200,300,400,500],"format":"d","tickCount":12}},"x2":{"field":"x2"},"y":{"field":"y","type":"quantitative","scale":{"domain":[7,12],"nice":false,"zero":false},"axis":{"title":"Reduced Elastic Modulus (GPa)","values":[8,10,12],"format":"d","tickCount":12}},"y2":{"field":"y2"}}},
{"data":{"name":"c1"},"mark":{"type":"line","color":"#f5409a","strokeWidth":1.5},"encoding":{"x":{"field":"d","type":"quantitative"},"y":{"field":"v","type":"quantitative"}}},
{"data":{"name":"c1"},"transform":[{"filter":"datum.d<180"}],"mark":{"type":"point","shape":"square","filled":false,"size":12,"strokeWidth":0.9,"color":"#ff6eb4","opacity":1},"encoding":{"x":{"field":"d","type":"quantitative"},"y":{"field":"v","type":"quantitative"}}},
{"data":{"name":"c1"},"transform":[{"filter":"datum.d>=171"}],"mark":{"type":"line","color":"#f01e8c","strokeWidth":3.5},"encoding":{"x":{"field":"d","type":"quantitative"},"y":{"field":"v","type":"quantitative"}}},
{"data":{"name":"ann"},"transform":[{"filter":"datum.p=='c1'&&datum.k=='star'"}],"mark":{"type":"point","shape":"M-1,0L1,0M0,-1L0,1M-0.7,-0.7L0.7,0.7M-0.7,0.7L0.7,-0.7","size":80,"strokeWidth":1.6,"color":"#ff1a1a","filled":false,"opacity":1},"encoding":{"x":{"field":"x","type":"quantitative"},"y":{"field":"y","type":"quantitative"}}},
{"data":{"name":"ann"},"transform":[{"filter":"datum.p=='c1'&&datum.k=='arrow'"}],"mark":{"type":"rule","color":"#000","strokeWidth":0.8},"encoding":{"x":{"field":"x","type":"quantitative"},"y":{"field":"y","type":"quantitative"},"x2":{"field":"x2"},"y2":{"field":"y2"}}},
{"data":{"name":"ann"},"transform":[{"filter":"datum.p=='c1'&&datum.k=='arrow'"}],"mark":{"type":"point","shape":"triangle-down","angle":18,"size":12,"filled":true,"color":"#000","opacity":1},"encoding":{"x":{"field":"x2","type":"quantitative"},"y":{"field":"y2","type":"quantitative"}}},
{"data":{"name":"ann"},"transform":[{"filter":"datum.p=='c1'&&datum.k=='note'"}],"mark":{"type":"text","align":"left","baseline":"middle","fontSize":8.5,"fontWeight":"bold","font":"Liberation Serif","color":"#000"},"encoding":{"x":{"field":"x","type":"quantitative"},"y":{"field":"y","type":"quantitative"},"text":{"field":"t"}}},
{"data":{"name":"ann"},"transform":[{"filter":"datum.p=='c1'&&datum.k=='var'"}],"mark":{"type":"text","align":"right","baseline":"middle","dx":-1,"fontSize":8.5,"fontWeight":"bold","font":"Liberation Serif","color":"#000"},"encoding":{"x":{"field":"x","type":"quantitative"},"y":{"field":"y","type":"quantitative"},"text":{"field":"t"}}},
{"data":{"name":"ann"},"transform":[{"filter":"datum.p=='c1'&&datum.k=='lab'"}],"mark":{"type":"text","align":"right","baseline":"middle","fontSize":20,"fontWeight":"bold","font":"Liberation Serif","color":"#000"},"encoding":{"x":{"field":"x","type":"quantitative"},"y":{"field":"y","type":"quantitative"},"text":{"field":"t"}}},
{"data":{"name":"ann"},"transform":[{"filter":"datum.p=='c1'&&datum.k=='lab'"}],"mark":{"type":"text","align":"left","baseline":"middle","dy":6,"fontSize":13,"fontWeight":"bold","font":"Liberation Serif","color":"#000"},"encoding":{"x":{"field":"x","type":"quantitative"},"y":{"field":"y","type":"quantitative"},"text":{"field":"s"}}},
{"data":{"name":"ann"},"transform":[{"filter":"datum.p=='c1'&&datum.k=='lab'"}],"mark":{"type":"text","align":"left","baseline":"middle","dx":7,"fontSize":20,"fontWeight":"bold","font":"Liberation Serif","color":"#000"},"encoding":{"x":{"field":"x","type":"quantitative"},"y":{"field":"y","type":"quantitative"},"text":{"value":")"}}}
]},
{"width":227,"height":100,"layer":[
{"data":{"name":"ann"},"transform":[{"filter":"datum.p=='c2'&&datum.k=='band'"}],"mark":{"type":"rect","color":"#e4f6bc"},"encoding":{"x":{"field":"x","type":"quantitative","scale":{"domain":[0,500],"nice":false},"axis":{"title":"Depth (nm)","values":[0,100,200,300,400,500],"format":"d","tickCount":12}},"x2":{"field":"x2"},"y":{"field":"y","type":"quantitative","scale":{"domain":[0.5,2.0],"nice":false,"zero":false},"axis":{"title":"Hardness (GPa)","values":[0.6,0.8,1.0,1.2,1.4,1.6,1.8,2.0],"format":".1f","tickCount":12}},"y2":{"field":"y2"}}},
{"data":{"name":"c2"},"mark":{"type":"line","color":"#f5409a","strokeWidth":1.5},"encoding":{"x":{"field":"d","type":"quantitative"},"y":{"field":"v","type":"quantitative"}}},
{"data":{"name":"c2"},"transform":[{"filter":"datum.d<180"}],"mark":{"type":"point","shape":"square","filled":false,"size":12,"strokeWidth":0.9,"color":"#ff6eb4","opacity":1},"encoding":{"x":{"field":"d","type":"quantitative"},"y":{"field":"v","type":"quantitative"}}},
{"data":{"name":"c2"},"transform":[{"filter":"datum.d>=171"}],"mark":{"type":"line","color":"#f01e8c","strokeWidth":3.5},"encoding":{"x":{"field":"d","type":"quantitative"},"y":{"field":"v","type":"quantitative"}}},
{"data":{"name":"ann"},"transform":[{"filter":"datum.p=='c2'&&datum.k=='star'"}],"mark":{"type":"point","shape":"M-1,0L1,0M0,-1L0,1M-0.7,-0.7L0.7,0.7M-0.7,0.7L0.7,-0.7","size":80,"strokeWidth":1.6,"color":"#ff1a1a","filled":false,"opacity":1},"encoding":{"x":{"field":"x","type":"quantitative"},"y":{"field":"y","type":"quantitative"}}},
{"data":{"name":"ann"},"transform":[{"filter":"datum.p=='c2'&&datum.k=='arrow'"}],"mark":{"type":"rule","color":"#000","strokeWidth":0.8},"encoding":{"x":{"field":"x","type":"quantitative"},"y":{"field":"y","type":"quantitative"},"x2":{"field":"x2"},"y2":{"field":"y2"}}},
{"data":{"name":"ann"},"transform":[{"filter":"datum.p=='c2'&&datum.k=='arrow'"}],"mark":{"type":"point","shape":"triangle-down","angle":18,"size":12,"filled":true,"color":"#000","opacity":1},"encoding":{"x":{"field":"x2","type":"quantitative"},"y":{"field":"y2","type":"quantitative"}}},
{"data":{"name":"ann"},"transform":[{"filter":"datum.p=='c2'&&datum.k=='note'"}],"mark":{"type":"text","align":"left","baseline":"middle","fontSize":8.5,"fontWeight":"bold","font":"Liberation Serif","color":"#000"},"encoding":{"x":{"field":"x","type":"quantitative"},"y":{"field":"y","type":"quantitative"},"text":{"field":"t"}}},
{"data":{"name":"ann"},"transform":[{"filter":"datum.p=='c2'&&datum.k=='var'"}],"mark":{"type":"text","align":"right","baseline":"middle","dx":-1,"fontSize":8.5,"fontWeight":"bold","font":"Liberation Serif","color":"#000"},"encoding":{"x":{"field":"x","type":"quantitative"},"y":{"field":"y","type":"quantitative"},"text":{"field":"t"}}},
{"data":{"name":"ann"},"transform":[{"filter":"datum.p=='c2'&&datum.k=='lab'"}],"mark":{"type":"text","align":"right","baseline":"middle","fontSize":20,"fontWeight":"bold","font":"Liberation Serif","color":"#000"},"encoding":{"x":{"field":"x","type":"quantitative"},"y":{"field":"y","type":"quantitative"},"text":{"field":"t"}}},
{"data":{"name":"ann"},"transform":[{"filter":"datum.p=='c2'&&datum.k=='lab'"}],"mark":{"type":"text","align":"left","baseline":"middle","dy":6,"fontSize":13,"fontWeight":"bold","font":"Liberation Serif","color":"#000"},"encoding":{"x":{"field":"x","type":"quantitative"},"y":{"field":"y","type":"quantitative"},"text":{"field":"s"}}},
{"data":{"name":"ann"},"transform":[{"filter":"datum.p=='c2'&&datum.k=='lab'"}],"mark":{"type":"text","align":"left","baseline":"middle","dx":7,"fontSize":20,"fontWeight":"bold","font":"Liberation Serif","color":"#000"},"encoding":{"x":{"field":"x","type":"quantitative"},"y":{"field":"y","type":"quantitative"},"text":{"value":")"}}}
]},
{"width":128,"height":102,"layer":[
{"data":{"name":"c3"},"mark":{"type":"line","color":"#ff2e9a","strokeWidth":1},"encoding":{"x":{"field":"d","type":"quantitative","scale":{"domain":[0,200],"nice":false},"axis":{"title":"Depth (nm)","values":[0,50,100,150,200],"format":"d","labelFontSize":6.5,"titleFontSize":7,"tickCount":12}},"y":{"field":"v","type":"quantitative","scale":{"domain":[0,0.5],"nice":false},"axis":{"title":"Load (mN)","values":[0,0.1,0.2,0.3,0.4,0.5],"format":".1f","labelFontSize":6.5,"titleFontSize":7,"tickCount":12}},"order":{"field":"i"}}},
{"data":{"name":"ann"},"transform":[{"filter":"datum.p=='c3'&&datum.k=='lab'"}],"mark":{"type":"text","align":"right","baseline":"middle","fontSize":20,"fontWeight":"bold","font":"Liberation Serif","color":"#000"},"encoding":{"x":{"field":"x","type":"quantitative"},"y":{"field":"y","type":"quantitative"},"text":{"field":"t"}}},
{"data":{"name":"ann"},"transform":[{"filter":"datum.p=='c3'&&datum.k=='lab'"}],"mark":{"type":"text","align":"left","baseline":"middle","dy":6,"fontSize":13,"fontWeight":"bold","font":"Liberation Serif","color":"#000"},"encoding":{"x":{"field":"x","type":"quantitative"},"y":{"field":"y","type":"quantitative"},"text":{"field":"s"}}},
{"data":{"name":"ann"},"transform":[{"filter":"datum.p=='c3'&&datum.k=='lab'"}],"mark":{"type":"text","align":"left","baseline":"middle","dx":7,"fontSize":20,"fontWeight":"bold","font":"Liberation Serif","color":"#000"},"encoding":{"x":{"field":"x","type":"quantitative"},"y":{"field":"y","type":"quantitative"},"text":{"value":")"}}}
]}
]
}
